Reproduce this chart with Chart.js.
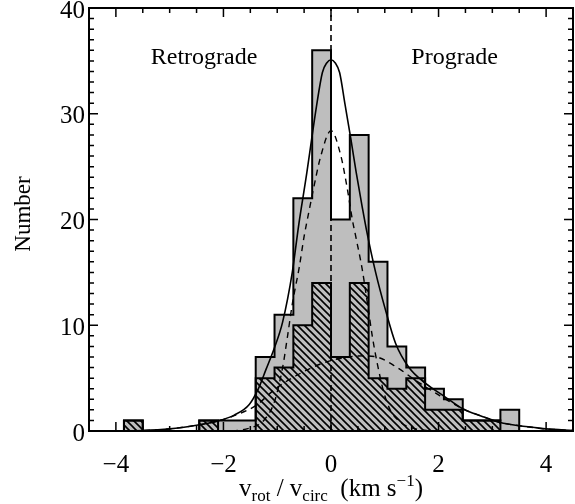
<!DOCTYPE html>
<html>
<head>
<meta charset="utf-8">
<script src="https://cdn.jsdelivr.net/npm/chart.js@4.4.0/dist/chart.umd.min.js"></script>
<style>
  body { margin: 0; background: #fff; }
  #wrap { width: 575px; height: 504px; }
</style>
</head>
<body>
<div id="wrap"><canvas id="chart"></canvas></div>
<script>
// Histogram bins (width 0.35 in v_rot / v_circ)
const binEdges = [-3.85, -3.5, -3.15, -2.8, -2.45, -2.1, -1.75, -1.4, -1.05, -0.7, -0.35,
                  0, 0.35, 0.7, 1.05, 1.4, 1.75, 2.1, 2.45, 2.8, 3.15, 3.5];
const allCounts   = [1, 0, 0, 0, 1, 1, 1, 7, 11, 22, 36, 20, 28, 16, 8, 6, 4, 3, 1, 1, 2];
const hatchCounts = [1, 0, 0, 0, 1, 0, 0, 5, 6, 10, 14, 7, 14, 5, 4, 5, 2, 2, 1, 1, 0];

// Fitted curves
const totalFitX = [-4.5, -4.0, -3.5, -3.0, -2.5, -2.1, -1.8, -1.52, -1.35, -1.21, -1.05, -0.9, -0.72, -0.6,
                   -0.45, -0.36, -0.27, -0.16, -0.08, 0, 0.08, 0.16, 0.26, 0.37, 0.47, 0.58, 0.66, 0.83,
                   1.01, 1.2, 1.45, 1.76, 2.1, 2.45, 2.8, 3.15, 3.5, 3.75, 4.0, 4.5];
const totalFitY = [0.0, 0.02, 0.05, 0.2, 0.55, 0.95, 1.5, 2.5, 4.0, 5.8, 7.9, 10.3, 15.0, 19.5,
                   24.4, 27.6, 30.7, 33.9, 34.8, 35.1, 34.8, 33.9, 30.9, 27.6, 24.4, 21.2, 19.0, 15.0,
                   11.5, 8.3, 6.0, 4.5, 3.3, 2.1, 1.4, 0.8, 0.5, 0.35, 0.2, 0.05];

const narrowFitX = [-4.5, -2.0, -1.5, -1.25, -1.05, -0.9, -0.81, -0.72, -0.59, -0.5, -0.42, -0.33, -0.19, 0,
                    0.18, 0.30, 0.40, 0.46, 0.58, 0.68, 0.77, 0.86, 0.98, 1.1, 1.3, 1.5, 2.0, 4.5];
const narrowFitY = [0, 0, 0.3, 1.0, 2.8, 6.0, 8.9, 12.0, 15.5, 18.4, 20.5, 22.8, 26.0, 28.4,
                    26.1, 23.0, 19.9, 18.4, 15.3, 12.0, 8.9, 6.4, 3.7, 2.0, 0.8, 0.3, 0, 0];

const broadFitX = [-4.5, -4.0, -3.5, -3.0, -2.5, -2.1, -1.8, -1.4, -1.03, -0.66, -0.16, 0.33, 0.6, 0.85,
                   1.2, 1.57, 1.94, 2.45, 2.8, 3.15, 3.5, 4.0, 4.5];
const broadFitY = [0.0, 0.02, 0.05, 0.2, 0.55, 0.95, 1.45, 2.4, 4.0, 5.2, 6.4, 7.0, 7.1, 7.0,
                   6.1, 4.8, 3.6, 2.1, 1.4, 0.8, 0.5, 0.2, 0.05];

const xTicks = [-4, -2, 0, 2, 4];
const yTicks = [0, 10, 20, 30, 40];

const serif = "'Liberation Serif', 'DejaVu Serif', serif";

// Turn bin edges + counts into a stepped outline
function stepPoints(edges, counts) {
    const pts = [{ x: edges[0], y: 0 }];
    counts.forEach((c, i) => pts.push({ x: edges[i], y: c }));
    pts.push({ x: edges[edges.length - 1], y: 0 });
    return pts;
}

function toPoints(xs, ys) {
    return xs.map((x, i) => ({ x: x, y: ys[i] }));
}

// Diagonal hatch fill
function makeHatch(ctx) {
    const s = 7;
    const c = document.createElement('canvas');
    c.width = s;
    c.height = s;
    const g = c.getContext('2d');
    g.strokeStyle = '#000';
    g.lineWidth = 1.6;
    g.beginPath();
    g.moveTo(-1, -1); g.lineTo(s + 1, s + 1);
    g.moveTo(-1, s - 1); g.lineTo(1, s + 1);
    g.moveTo(s - 1, -1); g.lineTo(s + 1, 1);
    g.stroke();
    return ctx.createPattern(c, 'repeat');
}

// Box, inward ticks, labels and axis titles
const idlFrame = {
    id: 'idlFrame',
    afterDraw(chart) {
        const { ctx, chartArea: a, scales: { x, y } } = chart;
        ctx.save();
        ctx.strokeStyle = '#000';
        ctx.lineWidth = 1.5;
        ctx.beginPath();
        for (let i = -8; i <= 8; i++) {
            const px = x.getPixelForValue(i / 2);
            const len = i % 4 === 0 ? 9 : 5;
            ctx.moveTo(px, a.bottom); ctx.lineTo(px, a.bottom - len);
            ctx.moveTo(px, a.top); ctx.lineTo(px, a.top + len);
        }
        for (let v = 1; v < 40; v++) {
            const py = y.getPixelForValue(v);
            const len = v % 10 === 0 ? 9 : 5;
            ctx.moveTo(a.left, py); ctx.lineTo(a.left + len, py);
            ctx.moveTo(a.right, py); ctx.lineTo(a.right - len, py);
        }
        ctx.stroke();
        ctx.lineWidth = 2;
        ctx.strokeRect(a.left, a.top, a.right - a.left, a.bottom - a.top);

        ctx.fillStyle = '#000';
        ctx.font = '24px ' + serif;
        ctx.textAlign = 'center';
        ctx.textBaseline = 'alphabetic';
        ctx.fillText('Retrograde', x.getPixelForValue(-2.36), y.getPixelForValue(34.7));
        ctx.fillText('Prograde', x.getPixelForValue(2.3), y.getPixelForValue(34.7));

        // y title
        ctx.save();
        ctx.translate(30, 214);
        ctx.rotate(-Math.PI / 2);
        ctx.font = '23px ' + serif;
        ctx.fillText('Number', 0, 0);
        ctx.restore();

        // x title with sub/superscripts
        const parts = [
            { t: 'v', s: 25, dy: 0 },
            { t: 'rot', s: 17, dy: 5 },
            { t: ' / v', s: 25, dy: 0 },
            { t: 'circ', s: 17, dy: 5 },
            { t: '  (km s', s: 25, dy: 0 },
            { t: '\u22121', s: 17, dy: -10 },
            { t: ')', s: 25, dy: 0 }
        ];
        let total = 0;
        parts.forEach(p => {
            ctx.font = p.s + 'px ' + serif;
            p.w = ctx.measureText(p.t).width;
            total += p.w;
        });
        let cx = 331 - total / 2;
        const base = 496;
        ctx.textAlign = 'left';
        parts.forEach(p => {
            ctx.font = p.s + 'px ' + serif;
            ctx.fillText(p.t, cx, base + p.dy);
            cx += p.w;
        });
        ctx.restore();
    }
};

const canvas = document.getElementById('chart');
const hatch = makeHatch(canvas.getContext('2d'));

new Chart(canvas, {
    type: 'scatter',
    data: {
        datasets: [
            {
                data: toPoints(totalFitX, totalFitY),
                showLine: true,
                borderColor: '#000',
                borderWidth: 1.6,
                pointRadius: 0,
                cubicInterpolationMode: 'monotone',
                fill: false
            },
            {
                data: toPoints(narrowFitX, narrowFitY),
                showLine: true,
                borderColor: '#000',
                borderWidth: 1.4,
                borderDash: [6, 5],
                pointRadius: 0,
                cubicInterpolationMode: 'monotone',
                fill: false
            },
            {
                data: toPoints(broadFitX, broadFitY),
                showLine: true,
                borderColor: '#000',
                borderWidth: 1.4,
                borderDash: [6, 5],
                pointRadius: 0,
                cubicInterpolationMode: 'monotone',
                fill: false
            },
            {
                data: [{ x: 0, y: 0 }, { x: 0, y: 40 }],
                showLine: true,
                borderColor: '#000',
                borderWidth: 1.6,
                borderDash: [6, 4],
                pointRadius: 0,
                fill: false
            },
            {
                data: stepPoints(binEdges, hatchCounts),
                showLine: true,
                stepped: 'before',
                borderColor: '#000',
                borderWidth: 2,
                backgroundColor: hatch,
                pointRadius: 0,
                fill: 'origin'
            },
            {
                data: stepPoints(binEdges, allCounts),
                showLine: true,
                stepped: 'before',
                borderColor: '#000',
                borderWidth: 2,
                backgroundColor: '#bebebe',
                pointRadius: 0,
                fill: 'origin'
            }
        ]
    },
    options: {
        responsive: true,
        maintainAspectRatio: false,
        animation: false,
        layout: { padding: { top: 8, right: 2, left: 0, bottom: 0 } },
        plugins: {
            legend: { display: false },
            tooltip: { enabled: false }
        },
        scales: {
            x: {
                type: 'linear',
                min: -4.5,
                max: 4.5,
                grid: { display: false, drawTicks: false },
                border: { display: false },
                ticks: {
                    color: '#000',
                    padding: 19,
                    font: { family: serif, size: 25 },
                    callback: v => String(v).replace('-', '\u2212')
                },
                afterBuildTicks: s => { s.ticks = xTicks.map(v => ({ value: v })); },
                afterFit: s => { s.height = 73; s.paddingLeft = 0; s.paddingRight = 0; }
            },
            y: {
                type: 'linear',
                min: 0,
                max: 40,
                grid: { display: false, drawTicks: false },
                border: { display: false },
                ticks: {
                    color: '#000',
                    padding: 4,
                    labelOffset: 3,
                    font: { family: serif, size: 25 }
                },
                afterBuildTicks: s => { s.ticks = yTicks.map(v => ({ value: v })); },
                afterFit: s => { s.width = 89; s.paddingTop = 0; s.paddingBottom = 0; }
            }
        }
    },
    plugins: [idlFrame]
});
</script>
</body>
</html>
